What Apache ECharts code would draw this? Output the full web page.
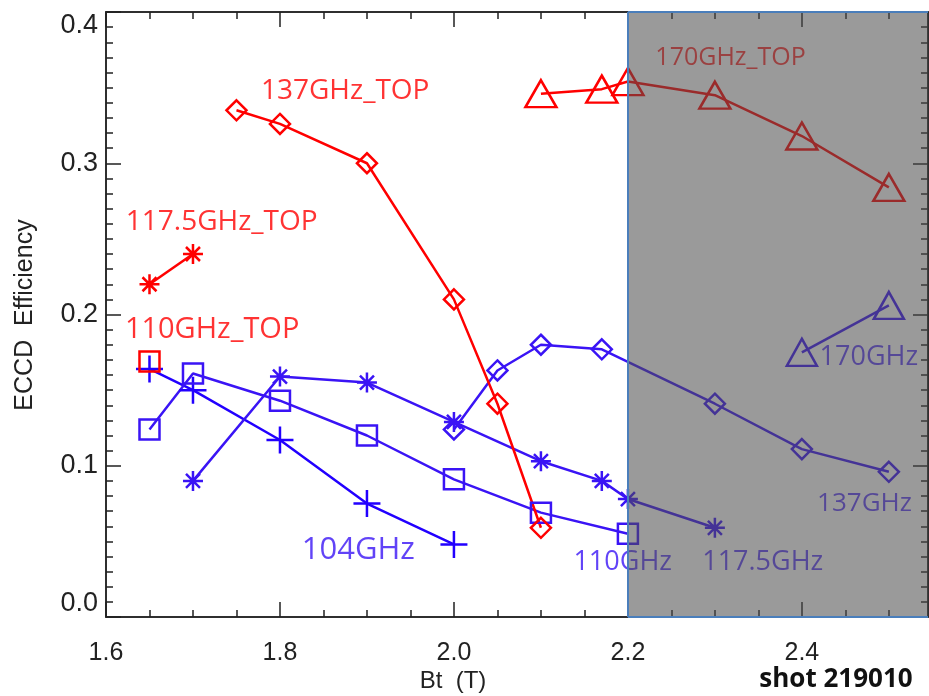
<!DOCTYPE html>
<html>
<head>
<meta charset="utf-8">
<script src="https://cdn.jsdelivr.net/npm/echarts@6/dist/echarts.min.js"></script>
<style>
  html, body { margin: 0; padding: 0; background: #fff; }
  #chart { width: 929px; height: 696px; }
</style>
</head>
<body>
<div id="chart"></div>
<script>
// Bt (T) values and ECCD efficiency per frequency
const bt104 = [1.65, 1.7, 1.8, 1.9, 2.0];
const eff104 = [0.164, 0.150, 0.117, 0.075, 0.048];

const bt110 = [1.65, 1.7, 1.8, 1.9, 2.0, 2.1, 2.2];
const eff110 = [0.124, 0.161, 0.143, 0.120, 0.091, 0.069, 0.055];

const bt117 = [1.7, 1.8, 1.9, 2.0, 2.1, 2.17, 2.2, 2.3];
const eff117 = [0.090, 0.159, 0.155, 0.129, 0.103, 0.090, 0.078, 0.059];

const bt137 = [2.0, 2.05, 2.1, 2.17, 2.3, 2.4, 2.5];
const eff137 = [0.124, 0.163, 0.180, 0.177, 0.141, 0.111, 0.096];

const bt170 = [2.4, 2.5];
const eff170 = [0.175, 0.206];

const bt110Top = [1.65];
const eff110Top = [0.169];

const bt117Top = [1.65, 1.7];
const eff117Top = [0.220, 0.240];

const bt137Top = [1.75, 1.8, 1.9, 2.0, 2.05, 2.1];
const eff137Top = [0.335, 0.326, 0.300, 0.210, 0.141, 0.059];

const bt170Top = [2.1, 2.17, 2.2, 2.3, 2.4, 2.5];
const eff170Top = [0.346, 0.349, 0.354, 0.345, 0.318, 0.284];

// text labels next to the curves (data coordinates)
const noteText = ['137GHz_TOP', '117.5GHz_TOP', '110GHz_TOP', '170GHz_TOP', '170GHz', '137GHz', '110GHz', '117.5GHz', '104GHz'];
const noteX = [1.875, 1.733, 1.722, 2.318, 2.477, 2.472, 2.194, 2.355, 1.890];
const noteY = [0.348, 0.261, 0.190, 0.370, 0.172, 0.075, 0.036, 0.036, 0.044];
const noteTop = [true, true, true, true, false, false, false, false, false];
const noteSize = [28, 28, 29, 25, 27, 26, 27, 27, 31];

// axis ticks
const xMajor = [1.6, 1.8, 2.0, 2.2, 2.4];
const yMajor = [0, 0.1, 0.2, 0.3, 0.4];
const X_MIN = 1.6, X_MAX = 2.545, Y_MIN = 0, Y_MAX = 0.4;
const SHADE_FROM = 2.2;

const xMinor = [];
for (let i = 0; i <= 18; i++) xMinor.push(+(1.6 + i * 0.05).toFixed(2));
const yMinor = [];
for (let i = 0; i <= 40; i++) yMinor.push(+(i * 0.01).toFixed(2));

const RED = '#ff0000';
const BLUE = '#3a14f5';
const BLUE2 = '#2200ff';
const BOX = '#4a7ebb';
const TICK_FONT = '"Liberation Sans", Arial, sans-serif';
const LABEL_FONT = '"Open Sans", "Liberation Sans", sans-serif';

const PLUS = 'path://M10 0V20M0 10H20';
const STAR = 'path://M10 0V20M0 10H20M3 3L17 17M17 3L3 17';

function pairs(xs, ys) {
    return xs.map((x, i) => [x, ys[i]]);
}

function curve(name, xs, ys, color, symbol, size) {
    return {
        name: name,
        type: 'line',
        data: pairs(xs, ys),
        symbol: symbol,
        symbolSize: size,
        showAllSymbol: true,
        lineStyle: { color: color, width: 2.5 },
        itemStyle: { color: 'none', borderColor: color, borderWidth: 2.5 },
        z: 2,
        silent: true
    };
}

function xAxisDef(pos, ticks, len, labels) {
    return {
        type: 'value', position: pos, min: X_MIN, max: X_MAX,
        axisLine: { show: true, onZero: false, lineStyle: { color: '#222', width: 1.5 } },
        axisTick: { show: true, inside: true, length: len, customValues: ticks, lineStyle: { color: '#222', width: 1.5 } },
        axisLabel: labels ? {
            show: true, customValues: xMajor, margin: 24,
            formatter: v => v.toFixed(1),
            color: '#222', fontSize: 25, fontFamily: TICK_FONT
        } : { show: false },
        splitLine: { show: false }
    };
}

function yAxisDef(pos, ticks, len, labels) {
    return {
        type: 'value', position: pos, min: Y_MIN, max: Y_MAX,
        axisLine: { show: true, onZero: false, lineStyle: { color: '#222', width: 1.5 } },
        axisTick: { show: true, inside: true, length: len, customValues: ticks, lineStyle: { color: '#222', width: 1.5 } },
        axisLabel: labels ? {
            show: true, customValues: yMajor, margin: 8,
            formatter: v => v.toFixed(1),
            verticalAlignMinLabel: 'bottom',
            verticalAlignMaxLabel: 'top',
            color: '#222', fontSize: 27, fontFamily: TICK_FONT
        } : { show: false },
        splitLine: { show: false }
    };
}

let myChart = echarts.init(document.getElementById('chart'), null, { renderer: 'canvas' });

let option = {
    animation: false,
    backgroundColor: '#fff',
    grid: { left: 106, right: 1, top: 12, bottom: 79 },
    xAxis: [
        xAxisDef('bottom', xMajor, 15, true),
        xAxisDef('bottom', xMinor, 7, false),
        xAxisDef('top', xMajor, 15, false),
        xAxisDef('top', xMinor, 7, false)
    ],
    yAxis: [
        yAxisDef('left', yMajor, 15, true),
        yAxisDef('left', yMinor, 7, false),
        yAxisDef('right', yMajor, 15, false),
        yAxisDef('right', yMinor, 7, false)
    ],
    series: [
        curve('104GHz', bt104, eff104, BLUE2, PLUS, 27),
        curve('110GHz', bt110, eff110, BLUE, 'rect', 20),
        curve('117.5GHz', bt117, eff117, BLUE, STAR, 20),
        curve('137GHz', bt137, eff137, BLUE, 'diamond', 20),
        curve('170GHz', bt170, eff170, BLUE, 'triangle', [30, 27]),
        curve('110GHz_TOP', bt110Top, eff110Top, RED, 'rect', 20),
        curve('117.5GHz_TOP', bt117Top, eff117Top, RED, STAR, 20),
        curve('137GHz_TOP', bt137Top, eff137Top, RED, 'diamond', 20),
        curve('170GHz_TOP', bt170Top, eff170Top, RED, 'triangle', [31, 27]),
        {
            name: 'notes',
            type: 'scatter',
            symbolSize: 1,
            itemStyle: { color: 'rgba(0,0,0,0)' },
            silent: true,
            z: 3,
            data: noteText.map((t, i) => ({
                value: [noteX[i], noteY[i]],
                label: {
                    show: true, position: 'inside', formatter: t,
                    color: noteTop[i] ? RED : BLUE,
                    fontSize: noteSize[i], fontFamily: LABEL_FONT
                }
            }))
        },
        {
            // shaded region laid over the plot
            name: 'shade',
            type: 'line',
            data: [],
            z: 10,
            silent: true,
            markArea: {
                silent: true,
                z: 10,
                itemStyle: { color: 'rgba(76,76,76,0.566)', borderWidth: 0 },
                label: { show: false },
                data: [[{ xAxis: SHADE_FROM, yAxis: Y_MIN }, { xAxis: X_MAX, yAxis: Y_MAX }]]
            },
            markLine: {
                silent: true,
                z: 11,
                symbol: 'none',
                label: { show: false },
                lineStyle: { color: BOX, width: 2, type: 'solid' },
                data: [
                    [{ coord: [SHADE_FROM, Y_MIN] }, { coord: [SHADE_FROM, Y_MAX] }],
                    [{ coord: [SHADE_FROM, Y_MAX] }, { coord: [X_MAX, Y_MAX] }],
                    [{ coord: [SHADE_FROM, Y_MIN] }, { coord: [X_MAX, Y_MIN] }]
                ]
            }
        }
    ],
    graphic: [
        {
            type: 'text', x: 25, y: 315, rotation: Math.PI / 2,
            style: { text: 'ECCD  Efficiency', fill: '#222', fontSize: 25, fontFamily: TICK_FONT, align: 'center', verticalAlign: 'middle' }
        },
        {
            type: 'text', x: 453, y: 681,
            style: { text: 'Bt  (T)', fill: '#222', fontSize: 24, fontFamily: TICK_FONT, align: 'center', verticalAlign: 'middle' }
        },
        {
            type: 'text', x: 836, y: 680,
            style: { text: 'shot 219010', fill: '#111', fontSize: 26, fontWeight: 'bold', fontFamily: LABEL_FONT, align: 'center', verticalAlign: 'middle' }
        }
    ]
};

myChart.setOption(option);
</script>
</body>
</html>
